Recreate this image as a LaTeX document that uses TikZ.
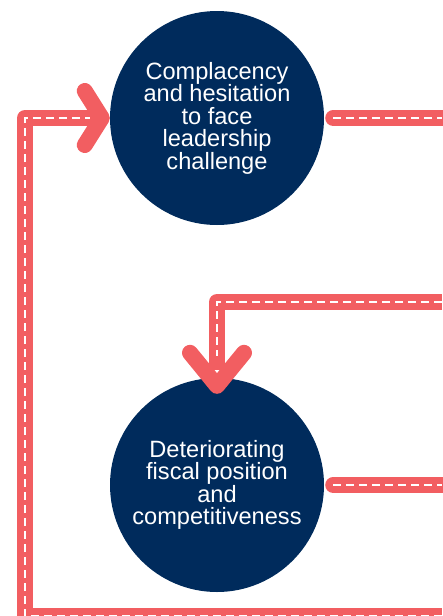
\documentclass[tikz,border=0pt]{standalone}
\usepackage{fontspec}
\setmainfont{Liberation Sans}
\usepackage{tikz}

\definecolor{loopred}{RGB}{242,94,97}
\definecolor{issueblue}{RGB}{0,43,92}

\tikzset{
	issue/.style={circle, fill=issueblue, text=white, minimum size=214pt, inner sep=0pt,
		align=center, font=\fontsize{23.6}{22.5}\selectfont},
	flow/.style={draw=loopred, line width=16pt, line join=round},
	flowdash/.style={draw=white, line width=2.2pt, dash pattern=on 8pt off 5pt},
	chevron/.style={draw=loopred, line width=16pt, line cap=round, line join=round}
}

\begin{document}
\begin{tikzpicture}[x=1pt, y=-1pt]
\useasboundingbox (0,0) rectangle (442,616);

\node[issue] (complacency) at (217,118) {Complacency\\and hesitation\\to face\\leadership\\challenge};
\node[issue] (fiscal) at (217,485) {Deteriorating\\fiscal position\\and\\competitiveness};

\coordinate (outtop) at (442,118);
\coordinate (inmid) at (442,302);
\coordinate (outbottom) at (442,485);
\coordinate (inloop) at (442,616);
\coordinate (leftrail) at (25,300);

% red bands
\draw[flow, line cap=round] ([xshift=9pt]complacency.east) -- (outtop);
\draw[flow, line cap=round] ([xshift=9pt]fiscal.east) -- (outbottom);
\draw[flow, shorten >=8pt] (inmid) -| (fiscal.north);
\draw[flow, shorten >=8pt] (inloop) -| (leftrail) |- (complacency.west);

% white dashes
\draw[flowdash] ([xshift=9pt]complacency.east) -- (outtop);
\draw[flowdash] ([xshift=9pt]fiscal.east) -- (outbottom);
\draw[flowdash, shorten >=22pt] (inmid) -| (fiscal.north);
\draw[flowdash, shorten >=20pt] (inloop) -| (leftrail) |- (complacency.west);

% arrow heads
\draw[chevron] ([shift={(-25,-27)}]complacency.west) -- ([xshift=-8pt]complacency.west) -- ([shift={(-25,27)}]complacency.west);
\draw[chevron] ([shift={(-27,-25)}]fiscal.north) -- ([yshift=-8pt]fiscal.north) -- ([shift={(27,-25)}]fiscal.north);
\end{tikzpicture}
\end{document}
